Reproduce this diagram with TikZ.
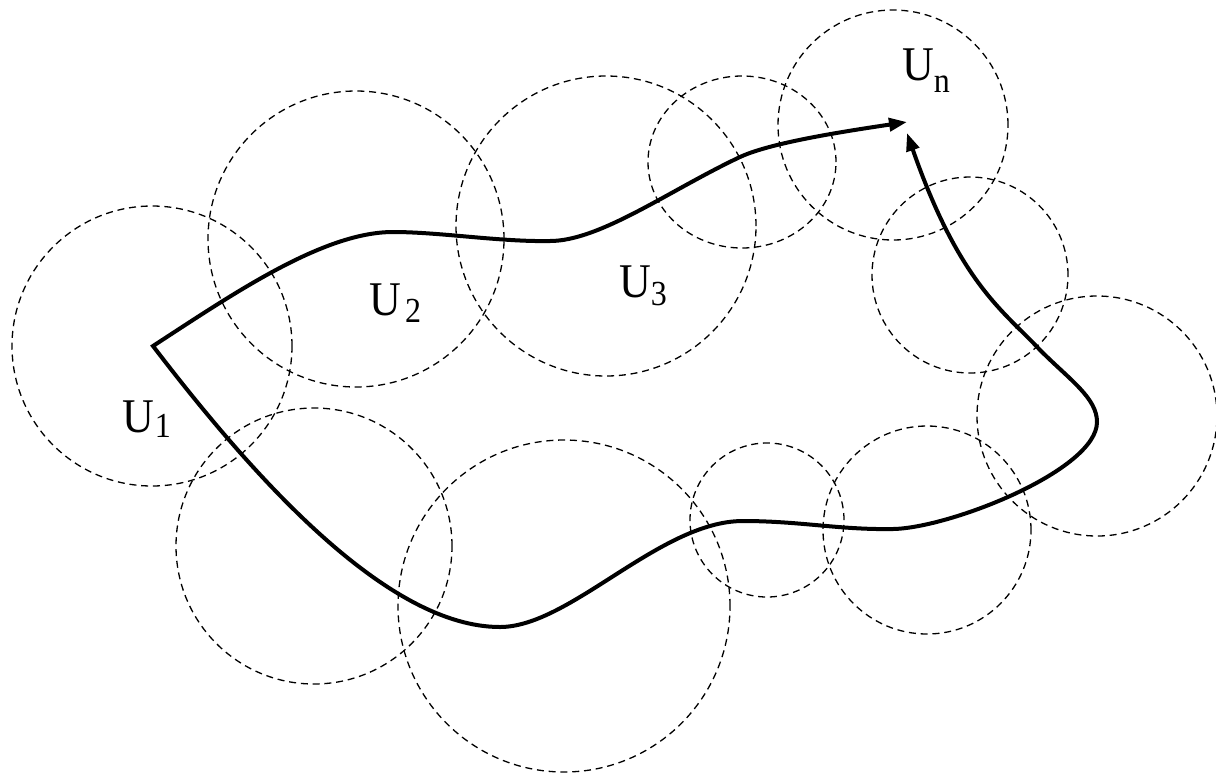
\documentclass[tikz,border=0pt]{standalone}
\usepackage{fontspec}
\setmainfont{Liberation Serif}
\newfontfamily\tms{Liberation Serif}
\usetikzlibrary{arrows.meta}
\tikzset{
  nbhd/.style={draw=black, line width=0.65pt, dash pattern=on 3.5pt off 2.4pt},
  pathline/.style={draw=black, line width=2pt, line join=miter},
  lbl/.style={anchor=base west, inner sep=0pt, outer sep=0pt, font=\tms},
  tip/.tip={Triangle[length=9pt,width=6.5pt]}
}
\newcommand\ulabel[3]{\scalebox{1}[1.1]{\tms\fontsize{22}{22}\selectfont U\kern#2\raisebox{-#3}{\fontsize{16}{16}\selectfont #1}}}
\begin{document}
\begin{tikzpicture}[x=0.5pt,y=-0.5pt]
\useasboundingbox (0,0) rectangle (1216,778);
\begin{scope}
\clip (0,0) rectangle (1216,778);
% neighbourhoods
\draw[nbhd] (152,346) circle[radius=70pt];
\draw[nbhd] (356,239) circle[radius=74pt];
\draw[nbhd] (606,226) circle[radius=75pt];
\draw[nbhd] (742,162) ellipse[x radius=47pt, y radius=43pt];
\draw[nbhd] (893,125) circle[radius=57.5pt];
\draw[nbhd] (970,275) circle[radius=49pt];
\draw[nbhd] (1097,416) circle[radius=60pt];
\draw[nbhd] (927,530) circle[radius=52pt];
\draw[nbhd] (767,520) circle[radius=38.5pt];
\draw[nbhd] (564,606) circle[radius=83pt];
\draw[nbhd] (314,546) circle[radius=69pt];
\end{scope}
% the chain path
\coordinate (tipA) at (907,122);
\coordinate (tipB) at (907,133);
\coordinate (start) at (153,346);
\draw[pathline, {tip}-{tip}]
  (tipA) .. controls (840,132) and (770,143) .. (740,157)
  .. controls (670,190) and (600,241) .. (550,241)
  .. controls (500,242) and (440,232) .. (393,232)
  .. controls (323,232) and (233,294) .. (start)
  .. controls (260,486) and (390,627) .. (500,627)
  .. controls (570,627) and (660,521) .. (743,521)
  .. controls (800,521) and (840,530) .. (893,529)
  .. controls (950,528) and (1097,470) .. (1097,422)
  .. controls (1097,398) and (1070,380) .. (1040,350)
  .. controls (1005,312) and (960,285) .. (tipB);
% labels
\node[lbl] (u1) at (122,432) {\ulabel{1}{0.6pt}{2.7pt}};
\node[lbl] (u2) at (369,315) {\ulabel{2}{2.2pt}{3.2pt}};
\node[lbl] (u3) at (619,297) {\ulabel{3}{0pt}{3.8pt}};
\node[lbl] (un) at (902,80) {\ulabel{n}{0pt}{5.9pt}};
\end{tikzpicture}
\end{document}
